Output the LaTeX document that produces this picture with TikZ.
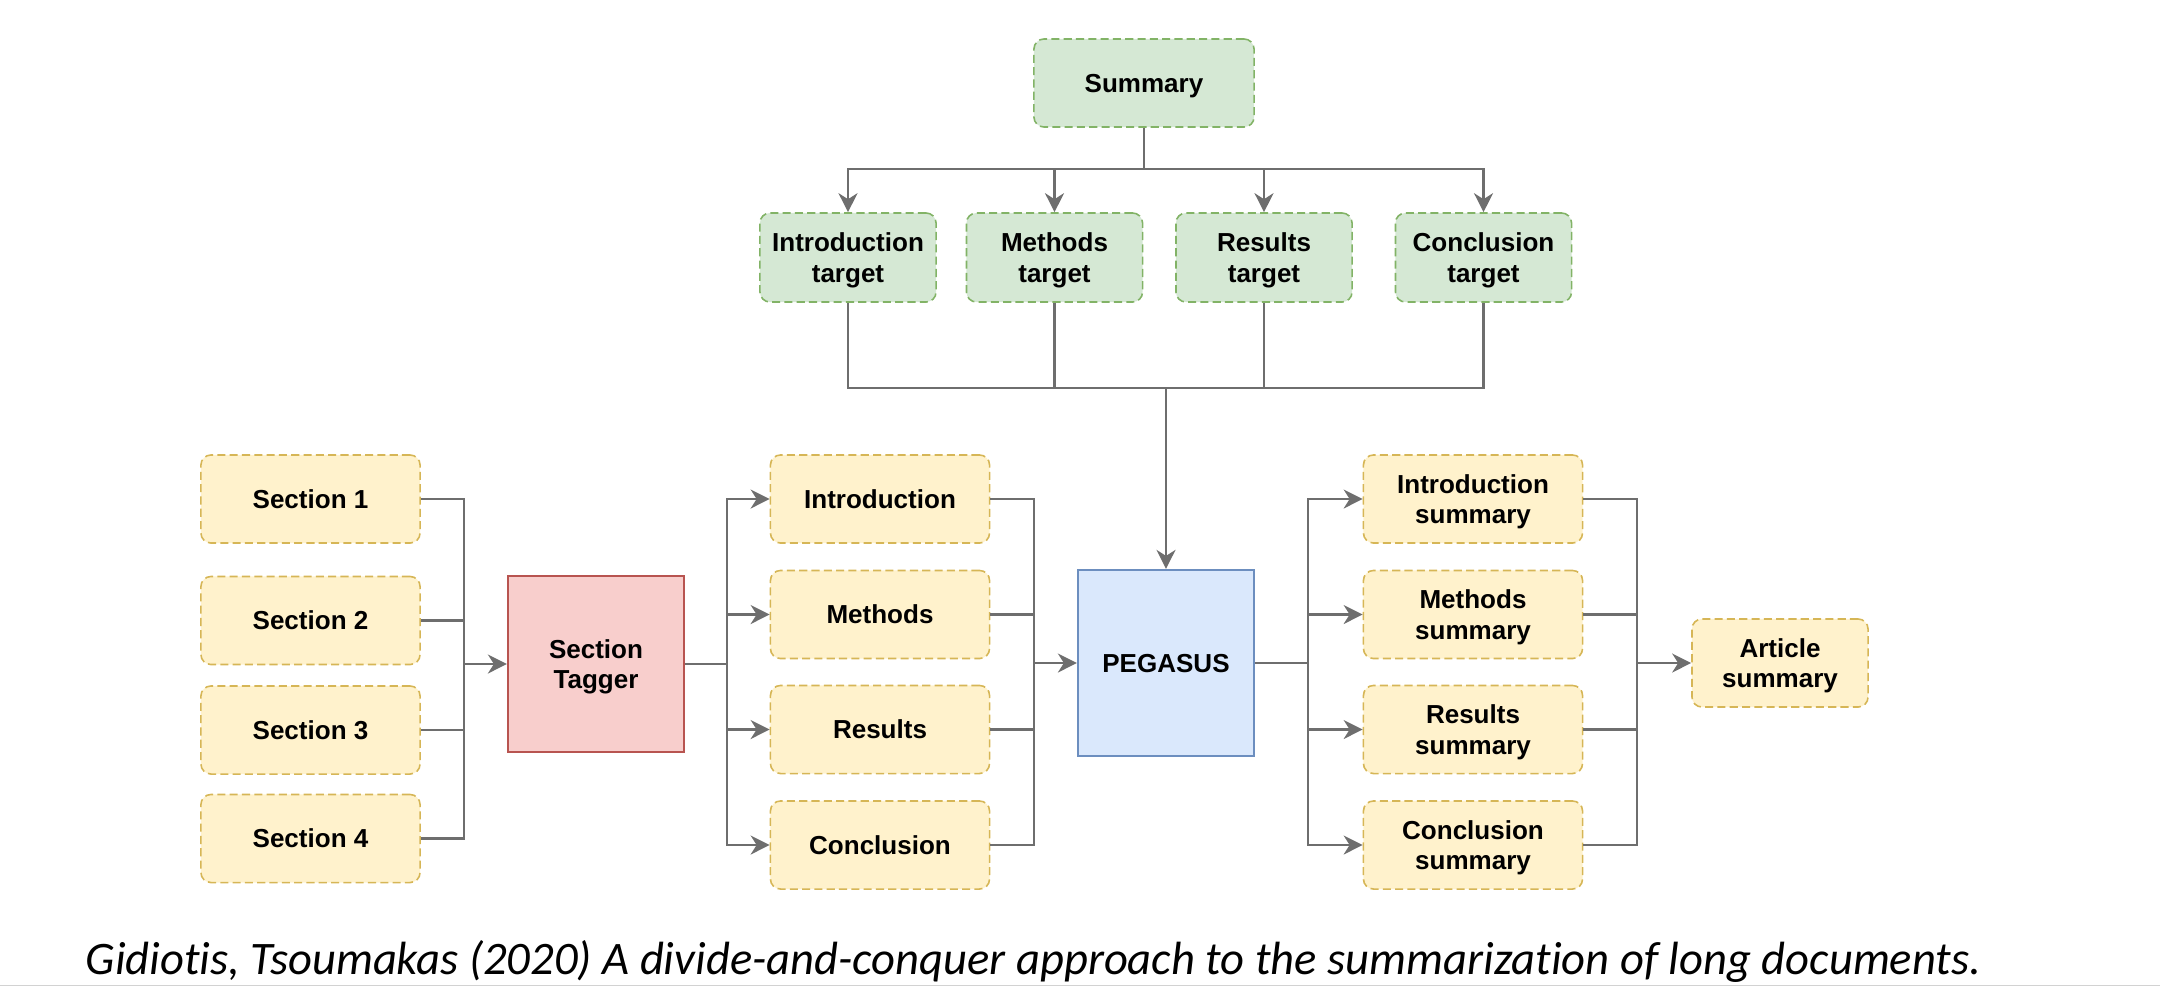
\documentclass[tikz,border=0pt]{standalone}
\usepackage{fontspec}
\setmainfont{Liberation Sans}
\newfontfamily\capfont[Ligatures=NoCommon]{Carlito}
\usetikzlibrary{arrows.meta}

\definecolor{yfill}{HTML}{FFF2CC}
\definecolor{ydraw}{HTML}{D6B656}
\definecolor{gfill}{HTML}{D5E8D4}
\definecolor{gdraw}{HTML}{82B366}
\definecolor{rfill}{HTML}{F8CECC}
\definecolor{rdraw}{HTML}{B85450}
\definecolor{bfill}{HTML}{DAE8FC}
\definecolor{bdraw}{HTML}{6C8EBF}
\definecolor{wire}{HTML}{6E6E6E}

\tikzset{
  box/.style={rectangle, align=center, inner sep=0pt, text depth=0pt,
    font=\fontsize{7.4}{8.6}\selectfont\bfseries},
  part/.style={box, fill=yfill, draw=ydraw, line width=0.45pt,
    dash pattern=on 2.3pt off 1.2pt, rounded corners=1mm,
    minimum width=2.19cm, minimum height=0.88cm},
  goal/.style={box, fill=gfill, draw=gdraw, line width=0.45pt,
    dash pattern=on 2.3pt off 1.2pt, rounded corners=1mm,
    minimum width=1.76cm, minimum height=0.89cm},
  wire/.style={draw=wire, line width=0.6pt},
  feed/.style={wire, -{Stealth[length=1.9mm, width=1.9mm, inset=0.6mm]}}
}

\begin{document}
\begin{tikzpicture}[x=0.01cm, y=-0.01cm]
\useasboundingbox (0,0) rectangle (2160,987);
\clip (0,0) rectangle (2160,987);

\node[goal, minimum width=2.2cm, minimum height=0.88cm] (summary) at (1144,83) {Summary};

\node[goal] (t1) at (848,257.5) {Introduction\\target};
\node[goal] (t2) at (1054.5,257.5) {Methods\\target};
\node[goal] (t3) at (1264,257.5) {Results\\target};
\node[goal] (t4) at (1483.5,257.5) {Conclusion\\target};

\node[part] (s1) at (310.5,499) {Section 1};
\node[part] (s2) at (310.5,620.5) {Section 2};
\node[part] (s3) at (310.5,730) {Section 3};
\node[part] (s4) at (310.5,838.5) {Section 4};

\node[box, fill=rfill, draw=rdraw, line width=0.6pt, minimum width=1.76cm, minimum height=1.76cm] (tagger) at (596,664) {Section\\Tagger};

\node[part] (m1) at (880,499) {Introduction};
\node[part] (m2) at (880,614.5) {Methods};
\node[part] (m3) at (880,729.5) {Results};
\node[part] (m4) at (880,845) {Conclusion};

\node[box, fill=bfill, draw=bdraw, line width=0.6pt, minimum width=1.76cm, minimum height=1.86cm] (pegasus) at (1166,663) {PEGASUS};

\node[part] (r1) at (1473,499) {Introduction\\summary};
\node[part] (r2) at (1473,614.5) {Methods\\summary};
\node[part] (r3) at (1473,729.5) {Results\\summary};
\node[part] (r4) at (1473,845) {Conclusion\\summary};

\node[part, minimum width=1.76cm, minimum height=0.88cm] (article) at (1780,663) {Article\\summary};

\coordinate (split) at (1144,169);
\coordinate (merge) at (1166,388);
\coordinate (join1) at (464,664);
\coordinate (fork1) at (727,664);
\coordinate (join2) at (1034,663);
\coordinate (fork2) at (1308,663);
\coordinate (join3) at (1637,663);

\draw[wire] (summary.south) -- (split);
\foreach \i in {1,...,4}
  {
  \draw[feed] (split) -| (t\i.north);
  \draw[wire] (t\i.south) |- (merge);
  \draw[wire] (s\i.east) -| (join1);
  \draw[feed] (fork1) |- (m\i.west);
  \draw[wire] (m\i.east) -| (join2);
  \draw[feed] (fork2) |- (r\i.west);
  \draw[wire] (r\i.east) -| (join3);
  }
\draw[feed] (merge) -- (pegasus.north);
\draw[feed] (join1) -- (tagger.west);
\draw[wire] (tagger.east) -- (fork1);
\draw[feed] (join2) -- (pegasus.west);
\draw[wire] (pegasus.east) -- (fork2);
\draw[feed] (join3) -- (article.west);

\node[anchor=base west, inner sep=0pt, font=\capfont\itshape\fontsize{13.25}{16}\selectfont] (caption) at (85,974) {Gidiotis, Tsoumakas (2020) A divide-and-conquer approach to the summarization of long documents.};
\draw[gray!35, line width=0.4pt] (0,985.5) -- (2160,985.5);
\end{tikzpicture}
\end{document}
